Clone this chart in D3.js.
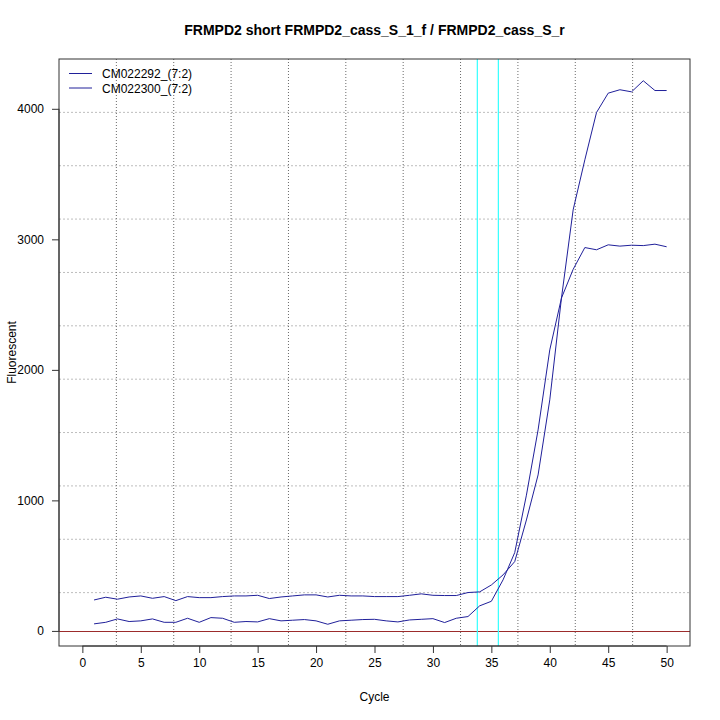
<!DOCTYPE html>
<html>
<head>
<meta charset="utf-8">
<script src="https://cdn.jsdelivr.net/npm/d3@7/dist/d3.min.js"></script>
<style>
  html, body { margin: 0; padding: 0; background: #fff; }
  svg { display: block; font-family: "Liberation Sans", Arial, Helvetica, sans-serif; }
</style>
</head>
<body>
<svg id="chart" width="720" height="720"></svg>
<script>
// ---- data ----
const title = "FRMPD2 short FRMPD2_cass_S_1_f / FRMPD2_cass_S_r";
const xLabel = "Cycle";
const yLabel = "Fluorescent";
const seriesNames = ["CM022292_(7:2)", "CM022300_(7:2)"];
const cycles = d3.range(1, 51);
const seriesA = [54, 66, 92, 72, 77, 92, 66, 66, 97, 66,
                 102, 97, 66, 72, 69, 94, 77, 82, 87, 77,
                 51, 77, 82, 87, 89, 77, 69, 84, 89, 94,
                 64, 97, 110, 192, 227, 391, 600, 1040, 1540, 2153,
                 2550, 2770, 2937, 2920, 2958, 2948, 2955, 2952, 2963, 2943];
const seriesB = [237, 258, 243, 260, 268, 250, 263, 232, 263, 255,
                 255, 263, 268, 268, 273, 248, 260, 268, 276, 276,
                 260, 273, 268, 268, 263, 263, 263, 273, 284, 273,
                 271, 271, 294, 299, 352, 429, 531, 850, 1195, 1770,
                 2550, 3226, 3609, 3972, 4120, 4146, 4130, 4215, 4140, 4140];
const xTicks = [0, 5, 10, 15, 20, 25, 30, 35, 40, 45, 50];
const yTicks = [0, 1000, 2000, 3000, 4000];
const xLimits = [0, 50];
const thresholdCycles = [33.8, 35.6];
const baselineValue = [0];

// ---- layout ----
const svg = d3.select("#chart");
const L = 59, T = 59, R = 690, B = 646;
const pad = (a, b) => { const r = b - a; return [a - 0.04 * r, b + 0.04 * r]; };
const allVals = seriesA.concat(seriesB);
const x = d3.scaleLinear().domain(pad(xLimits[0], xLimits[1])).range([L, R]);
const y = d3.scaleLinear().domain(pad(d3.min(allVals), d3.max(allVals))).range([B, T]);

// grid (R grid with 11 cells)
const nCells = 11;
const gx = d3.range(1, nCells).map(i => L + (R - L) * i / nCells);
const gy = d3.range(1, nCells).map(i => T + (B - T) * i / nCells);
svg.append("g").selectAll("line").data(gy).join("line")
  .attr("x1", L).attr("x2", R).attr("y1", d => d).attr("y2", d => d)
  .attr("stroke", "#bdbdbd").attr("stroke-width", 1).attr("stroke-dasharray", "2,2");
svg.append("g").selectAll("line").data(gx).join("line")
  .attr("x1", d => d).attr("x2", d => d).attr("y1", T).attr("y2", B)
  .attr("stroke", "#6a6a6a").attr("stroke-width", 1).attr("stroke-dasharray", "1,2");

// baseline at 0
svg.append("g").selectAll("line").data(baselineValue).join("line")
  .attr("x1", L).attr("x2", R).attr("y1", d => Math.round(y(d)) + 0.5).attr("y2", d => Math.round(y(d)) + 0.5)
  .attr("stroke", "#9c2c2c").attr("stroke-width", 1);

// threshold cycles
svg.append("g").selectAll("line").data(thresholdCycles).join("line")
  .attr("x1", d => x(d)).attr("x2", d => x(d)).attr("y1", T).attr("y2", B)
  .attr("stroke", "#33ffff").attr("stroke-width", 1.2);

// series
const line = d3.line().x((d, i) => x(cycles[i])).y(d => y(d));
const seriesColor = "#20209a";
[seriesA, seriesB].forEach(s => {
  svg.append("path").datum(s).attr("d", line)
    .attr("fill", "none").attr("stroke", seriesColor).attr("stroke-width", 1);
});

// box
svg.append("rect").attr("x", L).attr("y", T).attr("width", R - L).attr("height", B - T)
  .attr("fill", "none").attr("stroke", "#333").attr("stroke-width", 1);

// axes
const xAxis = d3.axisBottom(x).tickValues(xTicks).tickSize(7).tickPadding(5).tickFormat(d3.format("d"));
const gX = svg.append("g").attr("transform", `translate(0,${B})`).call(xAxis);
gX.select(".domain").attr("d", `M${x(xTicks[0])},0H${x(xTicks[xTicks.length - 1])}`).attr("stroke", "#333");
gX.selectAll(".tick line").attr("stroke", "#333");
gX.selectAll("text").attr("font-size", 12).attr("fill", "#000")
  .attr("font-family", "'Liberation Sans', Arial, sans-serif");

const yAxis = d3.axisLeft(y).tickValues(yTicks).tickSize(7).tickPadding(8).tickFormat(d3.format("d"));
const gY = svg.append("g").attr("transform", `translate(${L},0)`).call(yAxis);
gY.select(".domain").attr("d", `M0,${y(yTicks[0])}V${y(yTicks[yTicks.length - 1])}`).attr("stroke", "#333");
gY.selectAll(".tick line").attr("stroke", "#333");
gY.selectAll("text").attr("font-size", 12).attr("fill", "#000")
  .attr("font-family", "'Liberation Sans', Arial, sans-serif");

// title & labels
svg.append("text").attr("x", (L + R) / 2).attr("y", 35).attr("text-anchor", "middle")
  .attr("font-size", 14).attr("font-weight", "bold").text(title);
svg.append("text").attr("x", (L + R) / 2).attr("y", 701).attr("text-anchor", "middle")
  .attr("font-size", 12).text(xLabel);
svg.append("text").attr("transform", `translate(16,${(T + B) / 2}) rotate(-90)`)
  .attr("text-anchor", "middle").attr("font-size", 12).text(yLabel);

// legend
const legend = svg.append("g");
seriesNames.forEach((name, i) => {
  const ly = 73.5 + i * 14.5;
  legend.append("line").attr("x1", 69).attr("x2", 92).attr("y1", ly).attr("y2", ly)
    .attr("stroke", seriesColor).attr("stroke-width", 1);
  legend.append("text").attr("x", 102).attr("y", ly + 4.5).attr("font-size", 12).text(name);
});
</script>
</body>
</html>
